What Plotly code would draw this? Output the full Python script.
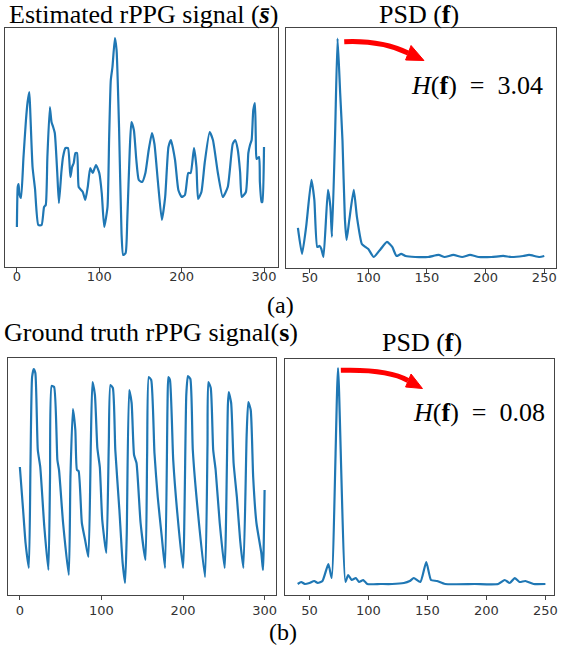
import plotly.graph_objects as go

W, H = 561, 658

# estimated rPPG signal (frame index, amplitude)
est_t = [0, 1, 2, 3, 5, 8, 11, 13, 15, 16, 19, 22, 26, 30, 33, 35, 37, 40, 42, 44,
         46, 49, 51, 54, 56, 59, 62, 65, 67, 69, 71, 73, 75, 78, 80, 83, 86, 89, 92, 96,
         100, 103, 106, 110, 112, 114, 116, 119, 121, 124, 127, 129, 132, 134, 137, 139,
         142, 145, 148, 152, 156, 160, 164, 167, 171, 176, 180, 184, 187, 192, 196, 200,
         204, 208, 211, 215, 218, 220, 224, 228, 234, 238, 244, 250, 256, 262, 265, 268,
         271, 273, 278, 281, 283, 285, 287, 289, 290, 291, 294, 295, 297, 298, 300]
est_v = [40, 80, 83, 73, 69, 110, 147, 165, 175, 160, 100, 78, 42, 42, 60, 62, 110, 160, 145, 140,
         134, 94, 64, 95, 110, 119, 119, 90, 100, 104, 114, 114, 80, 77, 75, 67, 80, 99, 94, 102,
         94, 74, 40, 60, 130, 187, 200, 229, 217, 140, 34, 12, 14, 47, 117, 145,
         137, 107, 87, 85, 94, 117, 134, 123, 87, 47, 70, 120, 127, 107, 77, 70,
         72, 94, 94, 119, 100, 68, 75, 104, 135, 127, 94, 70, 80, 123, 127, 118,
         95, 70, 75, 114, 122, 127, 157, 164, 130, 108, 110, 85, 65, 65, 120]

# ground truth rPPG signal
gt_t = [0, 4, 7, 11, 13, 15, 17, 19, 22, 25, 30, 35, 37, 39, 42, 46, 48, 53, 60, 62,
        65, 68, 70, 72, 76, 80, 84, 87, 89, 92, 95, 98, 101, 106, 109, 111, 114, 117, 122, 126,
        129, 131, 134, 137, 140, 143, 148, 154, 156, 158, 161, 165, 169, 174, 178, 181, 182, 184, 188, 193,
        200, 204, 206, 209, 212, 218, 227, 230, 231, 234, 237, 240, 245, 251, 255, 256, 259, 262, 266, 270,
        274, 278, 280, 283, 286, 290, 296, 298, 300]
gt_v = [128, 85, 52, 27, 130, 218, 226, 222, 145, 128, 68, 25, 118, 209, 208, 135, 125, 72, 20, 118,
        186, 165, 125, 124, 72, 55, 38, 152, 213, 200, 147, 128, 75, 42, 150, 210, 207, 145, 85, 32,
        12, 60, 205, 192, 140, 132, 72, 35, 140, 218, 215, 142, 98, 58, 27, 190, 218, 215, 135, 82,
        27, 200, 219, 216, 145, 85, 18, 150, 213, 207, 145, 125, 72, 27, 190, 203, 192, 132, 98, 55,
        27, 160, 193, 185, 118, 72, 42, 25, 105]

# PSD of the estimated signal (bpm, power)
psd_a_f = [40, 43.5, 47, 51.5, 54, 56.5, 58.5, 60, 61.8, 65.6, 67.7, 69, 71.7, 73.8, 76, 78,
           80, 81.5, 83.8, 87.6, 90.3, 94.5, 97.5, 100, 104.6, 110.6, 115.9, 120.4, 124, 128,
           131.7, 140, 151, 160, 165, 172.5, 180, 186.7, 194, 205, 215, 222, 232, 237, 246, 250]
psd_a_p = [40, 14, 41, 88, 68, 21, 22, 19, 11, 78, 61, 31, 134, 229, 175, 127,
           50, 28, 48, 78, 51, 24, 21, 19, 11, 19, 26, 21, 12, 14,
           12, 11, 11, 13, 11, 13, 11, 13, 11, 11, 12, 11, 12, 13, 11, 12]

# PSD of the ground truth signal
psd_b_f = [40, 43, 46, 50, 54, 57, 61, 66, 68.8, 74.2, 80.5, 82.8, 85.7, 89.3, 92, 95.6,
           99, 110, 120, 130, 135, 138.4, 144, 149, 153, 158, 165, 190, 210, 215.5,
           219.8, 224, 228, 233, 240, 250]
psd_b_p = [11, 13, 11, 12, 14, 12, 14, 31, 17, 227, 13, 20, 15, 17, 13, 15,
           11, 11, 11, 12, 14, 17, 13, 33, 15, 14, 11, 11, 11, 15,
           12, 17, 13, 14, 11, 11]

BLUE = "#1f77b4"
TICK = dict(family="DejaVu Sans", size=13, color="#333333")
SERIF = "Liberation Serif"


def px(x):
    return x / W


def py(y):
    return 1 - y / H


fig = go.Figure()
series = [(est_t, est_v), (psd_a_f, psd_a_p), (gt_t, gt_v), (psd_b_f, psd_b_p)]
for i, (xs, ys) in enumerate(series, start=1):
    fig.add_trace(go.Scatter(
        x=xs, y=ys, mode="lines",
        line=dict(color=BLUE, width=2.2, shape="spline", smoothing=0.5),
        xaxis=f"x{i}", yaxis=f"y{i}", showlegend=False, hoverinfo="skip",
    ))

# panel boxes in pixels: left, right, top, bottom
boxes = [(5, 280, 28, 267), (288, 560, 28, 268), (8, 278, 358, 595), (287, 558, 359, 595)]
xranges = [[-14.5, 317], [29.8, 260], [-14.6, 314], [29.2, 257.3]]
yranges = [[0, 239], [0, 239.5], [0, 237], [0, 236]]
xticks = [[0, 100, 200, 300], [50, 100, 150, 200, 250]] * 2
standoffs = [-7, -7, -1, -1]

axes = {}
for i, (b, xr, yr, xt, so) in enumerate(zip(boxes, xranges, yranges, xticks, standoffs), start=1):
    l, r, t, btm = b
    sfx = "" if i == 1 else str(i)
    axes[f"xaxis{sfx}"] = dict(
        domain=[px(l), px(r)], range=xr, anchor=f"y{i}",
        showgrid=False, zeroline=False, showline=True, mirror=True,
        linecolor="#444444", linewidth=1,
        ticks="outside", ticklen=4, tickcolor="#444444",
        tickvals=xt, tickfont=TICK, ticklabeloverflow="allow",
        ticklabelstandoff=so,
    )
    axes[f"yaxis{sfx}"] = dict(
        domain=[py(btm), py(t)], range=yr, anchor=f"x{i}",
        showgrid=False, zeroline=False, showline=True, mirror=True,
        linecolor="#444444", linewidth=1, showticklabels=False, ticks="",
    )

texts = [
    (145, 14, "Estimated rPPG signal (<b><i>s̄</i></b>)", 26),
    (422, 14, "PSD (<b>f</b>)", 26),
    (283, 305, "(a)", 24),
    (152, 332, "Ground truth rPPG signal(<b>s</b>)", 26),
    (425, 342, "PSD (<b>f</b>)", 26),
    (285, 632, "(b)", 24),
    (480, 85, "<i>H</i>(<b>f</b>)  =  3.04", 26),
    (482, 412, "<i>H</i>(<b>f</b>)  =  0.08", 26),
]
annotations = [
    dict(x=px(x), y=py(y), xref="paper", yref="paper", text=s, showarrow=False,
         xanchor="center", yanchor="middle", font=dict(family=SERIF, size=sz, color="black"))
    for x, y, s, sz in texts
]

# curved red arrows (start, control, shaft end, tip, head base corners) in pixels
arrows = [
    ((346.7, 41.7), (384, 40), (411, 53), (427, 60.5), (414, 45.5), (408.5, 60)),
    ((343.3, 370.3), (391, 369), (411, 380.5), (425.5, 388.5), (414, 374), (408.5, 387)),
]
shapes = []
for s0, c, e, tip, h1, h2 in arrows:
    shapes.append(dict(
        type="path", xref="paper", yref="paper",
        path=f"M {px(s0[0])},{py(s0[1])} Q {px(c[0])},{py(c[1])} {px(e[0])},{py(e[1])}",
        line=dict(color="#ff0000", width=5),
    ))
    shapes.append(dict(
        type="path", xref="paper", yref="paper",
        path=(f"M {px(tip[0])},{py(tip[1])} L {px(h1[0])},{py(h1[1])} "
              f"L {px(h2[0])},{py(h2[1])} Z"),
        fillcolor="#ff0000", line=dict(color="#ff0000", width=1),
    ))

fig.update_layout(
    width=W, height=H,
    margin=dict(l=0, r=0, t=0, b=0),
    plot_bgcolor="white", paper_bgcolor="white",
    annotations=annotations, shapes=shapes,
    **axes,
)

# drop the browser's default body margin so the figure sits at the page corner
fig.write_html("out.html", config={"displayModeBar": False},
               post_script="document.body.style.margin='0';")
